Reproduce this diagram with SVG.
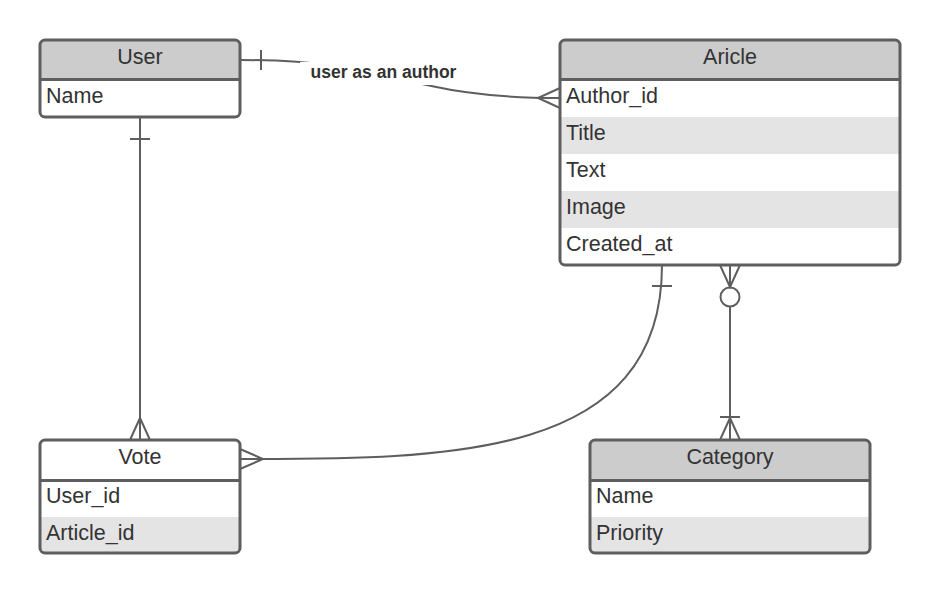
<svg xmlns="http://www.w3.org/2000/svg" width="940" height="594" viewBox="0 0 940 594">
<style>
.frame{fill:none;stroke:#5e5e5e;stroke-width:3}
.sep{stroke:#5e5e5e;stroke-width:3}
.hdr{fill:#cccccc}
.alt{fill:#e4e4e4}
.bg{fill:#ffffff}
.t{font-family:"Liberation Sans",Arial,sans-serif;font-size:21.5px;fill:#333333}
.h{text-anchor:middle}
.ln{fill:none;stroke:#5e5e5e;stroke-width:2}
.lbl{font-family:"Liberation Sans",Arial,sans-serif;font-size:17.5px;font-weight:bold;fill:#333333}
</style>
<defs>
<clipPath id="cu"><rect x="40" y="40" width="200" height="77" rx="5"/></clipPath>
<clipPath id="ca"><rect x="560" y="40" width="340" height="225" rx="5"/></clipPath>
<clipPath id="cv"><rect x="40" y="440" width="200" height="113" rx="5"/></clipPath>
<clipPath id="cc"><rect x="590" y="440" width="280" height="113" rx="5"/></clipPath>
</defs>
<rect width="940" height="594" fill="#ffffff"/>

<g id="connectors">
  <!-- User -> Article -->
  <path class="ln" d="M240,60 C400,60 400,98 560,98"/>
  <line class="ln" x1="261" y1="50" x2="261" y2="70"/>
  <path class="ln" d="M560,88 L538,98 L560,108"/>
  <rect x="300" y="62" width="131" height="23" fill="#ffffff"/>
  <text class="lbl" x="383.5" y="78" text-anchor="middle">user as an author</text>
  <!-- User -> Vote -->
  <line class="ln" x1="140" y1="117" x2="140" y2="440"/>
  <line class="ln" x1="130" y1="139" x2="150" y2="139"/>
  <path class="ln" d="M130,440 L140,418 L150,440"/>
  <!-- Article -> Vote -->
  <path class="ln" d="M662,265 C662,459 450,459 240,459"/>
  <line class="ln" x1="652" y1="286" x2="672" y2="286"/>
  <path class="ln" d="M240,449 L263,459 L240,469"/>
  <!-- Article -> Category -->
  <line class="ln" x1="730" y1="306" x2="730" y2="440"/>
  <path class="ln" d="M720,265 L730,287 L740,265"/>
  <line class="ln" x1="730" y1="265" x2="730" y2="287"/>
  <circle class="ln" cx="730" cy="297" r="9.5" fill="#ffffff"/>
  <line class="ln" x1="720" y1="417" x2="740" y2="417"/>
  <path class="ln" d="M720,440 L730,418 L740,440"/>
</g>

<g id="user">
  <g clip-path="url(#cu)">
    <rect class="bg" x="40" y="40" width="200" height="77"/>
    <rect class="hdr" x="40" y="40" width="200" height="39"/>
  </g>
  <line class="sep" x1="40" y1="79.5" x2="240" y2="79.5"/>
  <rect class="frame" x="40" y="40" width="200" height="77" rx="5"/>
  <text class="t h" x="140" y="64">User</text>
  <text class="t" x="46" y="103">Name</text>
</g>

<g id="article">
  <g clip-path="url(#ca)">
    <rect class="bg" x="560" y="40" width="340" height="225"/>
    <rect class="hdr" x="560" y="40" width="340" height="39"/>
    <rect class="alt" x="560" y="117" width="340" height="37"/>
    <rect class="alt" x="560" y="191" width="340" height="37"/>
  </g>
  <line class="sep" x1="560" y1="79.5" x2="900" y2="79.5"/>
  <rect class="frame" x="560" y="40" width="340" height="225" rx="5"/>
  <text class="t h" x="730" y="64">Aricle</text>
  <text class="t" x="566" y="103">Author_id</text>
  <text class="t" x="566" y="140">Title</text>
  <text class="t" x="566" y="177">Text</text>
  <text class="t" x="566" y="214">Image</text>
  <text class="t" x="566" y="251">Created_at</text>
</g>

<g id="vote">
  <g clip-path="url(#cv)">
    <rect class="bg" x="40" y="440" width="200" height="113"/>
    <rect class="alt" x="40" y="517" width="200" height="37"/>
  </g>
  <line class="sep" x1="40" y1="480.5" x2="240" y2="480.5"/>
  <rect class="frame" x="40" y="440" width="200" height="113" rx="5"/>
  <text class="t h" x="140" y="464">Vote</text>
  <text class="t" x="46" y="503">User_id</text>
  <text class="t" x="46" y="540">Article_id</text>
</g>

<g id="category">
  <g clip-path="url(#cc)">
    <rect class="bg" x="590" y="440" width="280" height="113"/>
    <rect class="hdr" x="590" y="440" width="280" height="40"/>
    <rect class="alt" x="590" y="517" width="280" height="37"/>
  </g>
  <line class="sep" x1="590" y1="480.5" x2="870" y2="480.5"/>
  <rect class="frame" x="590" y="440" width="280" height="113" rx="5"/>
  <text class="t h" x="730" y="464">Category</text>
  <text class="t" x="596" y="503">Name</text>
  <text class="t" x="596" y="540">Priority</text>
</g>
</svg>
